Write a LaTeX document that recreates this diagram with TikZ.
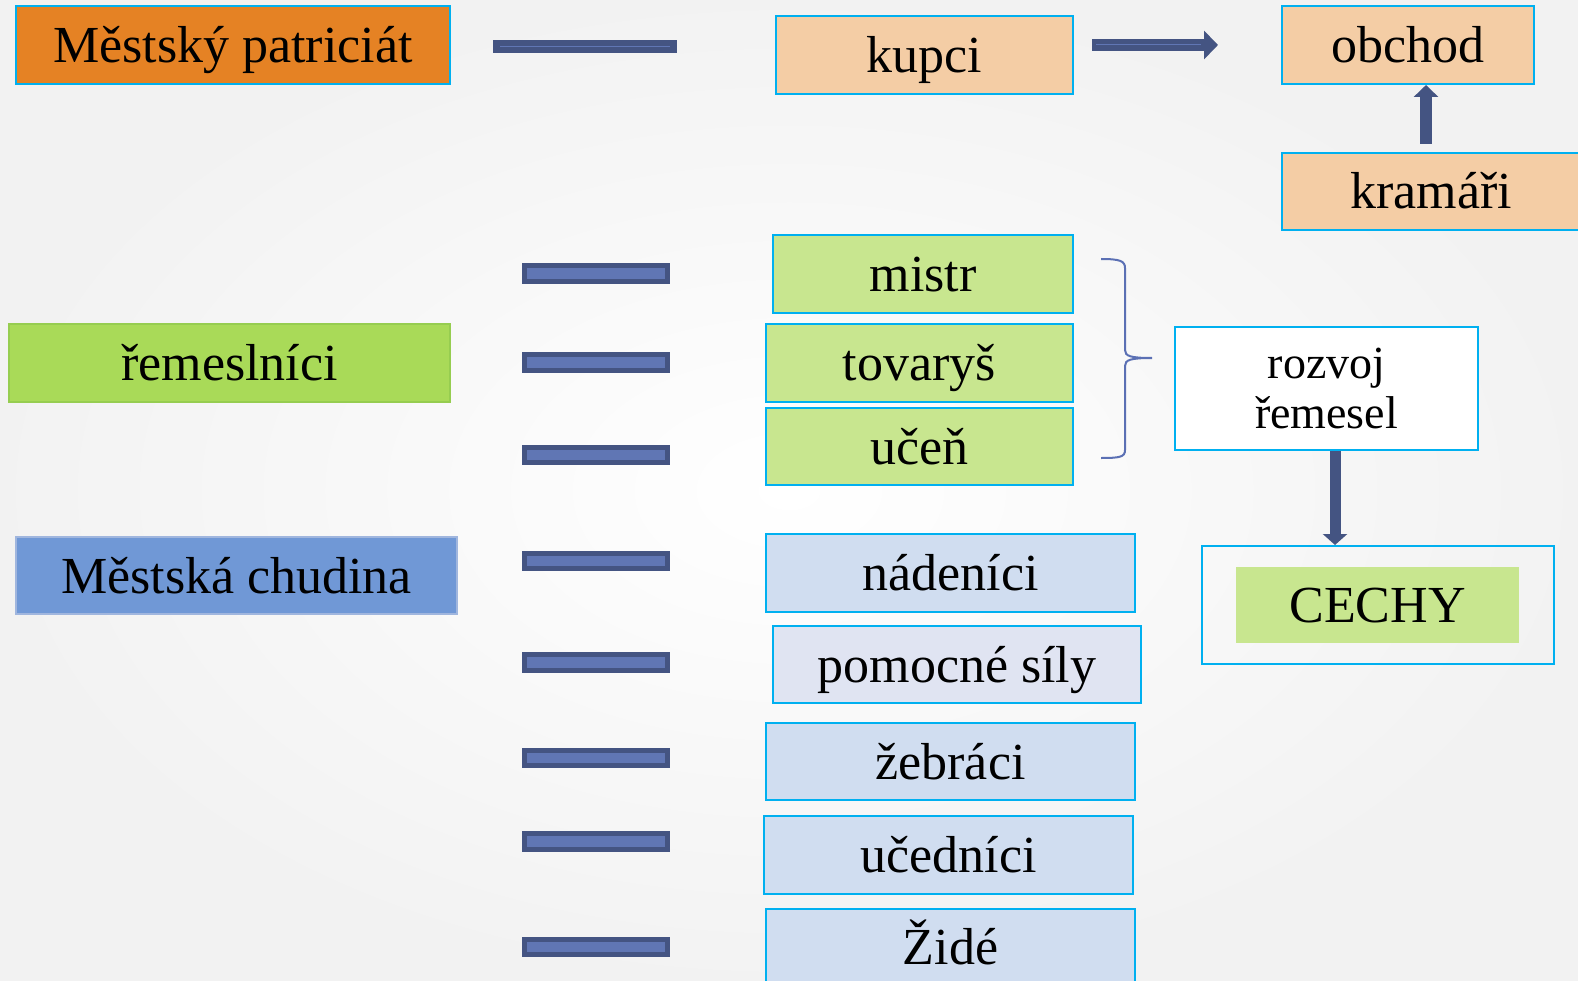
\documentclass[tikz,border=0pt]{standalone}
\usepackage{fontspec}
\setmainfont{Liberation Serif}
\usetikzlibrary{arrows.meta}

\definecolor{patricorange}{RGB}{229,130,36}
\definecolor{kupecpeach}{RGB}{244,205,165}
\definecolor{remesgreen}{RGB}{169,218,88}
\definecolor{remesgreenline}{RGB}{150,205,80}
\definecolor{cechgreen}{RGB}{200,230,143}
\definecolor{chudblue}{RGB}{112,152,214}
\definecolor{chudblueline}{RGB}{160,182,222}
\definecolor{chudlight}{RGB}{208,221,240}
\definecolor{chudlavender}{RGB}{224,228,242}
\definecolor{boxcyan}{RGB}{0,176,240}
\definecolor{bardark}{RGB}{68,84,130}
\definecolor{barfill}{RGB}{96,118,180}
\definecolor{bracecol}{RGB}{91,112,180}

\begin{document}
\begin{tikzpicture}[x=1pt, y=-1pt,
  box/.style={draw=boxcyan, line width=2pt, inner sep=0pt, font=\fontsize{52}{60}\selectfont},
  bigbox/.style={box, minimum height=78pt, text height=35pt, text depth=0pt},
  bar/.style={draw=bardark, fill=barfill, line width=5pt},
  blockarrow/.style={draw=bardark, line width=12pt, -{Triangle[width=28pt, length=14pt]}},
  bracestyle/.style={draw=bracecol, line width=2pt}]
			%%%%% START %%%%%
			\clip (0, 0) rectangle (1578, 981);
			\shade[inner color=white, outer color=gray!10] (0, 0) rectangle (1578, 981);
			\useasboundingbox (0, 0) rectangle (1578, 981);
			
			% left column
			\node[bigbox, fill=patricorange, minimum width=434pt] (patriciat) at (233, 45) {Městský patriciát};
			\node[bigbox, fill=remesgreen, draw=remesgreenline, minimum width=441pt] (remeslnici) at (229.5, 363) {řemeslníci};
			\node[bigbox, fill=chudblue, draw=chudblueline, minimum width=441pt, minimum height=77pt] (chudina) at (236.5, 575.5) {Městská chudina};
			
			% bars
			\fill[bardark] (493, 40) rectangle (677, 53);
			\draw[barfill, line width=1.5pt] (500, 46.5) -- (670, 46.5);
			\draw[bar] (524.5, 266) rectangle (667.5, 281.5);
			\draw[bar] (524.5, 354.5) rectangle (667.5, 370);
			\draw[bar] (524.5, 447) rectangle (667.5, 462.5);
			\draw[bar] (524.5, 553) rectangle (667.5, 568.5);
			\draw[bar] (524.5, 654.5) rectangle (667.5, 670);
			\draw[bar] (524.5, 750) rectangle (667.5, 765.5);
			\draw[bar] (524.5, 833.5) rectangle (667.5, 849);
			\draw[bar] (524.5, 939) rectangle (667.5, 954.5);
			
			% middle column
			\node[bigbox, fill=kupecpeach, minimum width=297pt] (kupci) at (924.5, 55) {kupci};
			\node[bigbox, fill=cechgreen, minimum width=300pt] (mistr) at (923, 274) {mistr};
			\node[bigbox, fill=cechgreen, minimum width=307pt] (tovarys) at (919.5, 363) {tovaryš};
			\node[bigbox, fill=cechgreen, minimum width=307pt, minimum height=77pt] (ucen) at (919.5, 446.5) {učeň};
			\node[bigbox, fill=chudlight, minimum width=369pt] (nadenici) at (950.5, 573) {nádeníci};
			\node[bigbox, fill=chudlavender, minimum width=368pt, minimum height=77pt] (pomocne) at (957, 664.5) {pomocné síly};
			\node[bigbox, fill=chudlight, minimum width=369pt, minimum height=77pt] (zebraci) at (950.5, 761.5) {žebráci};
			\node[bigbox, fill=chudlight, minimum width=369pt] (ucednici) at (948.5, 855) {učedníci};
			\node[bigbox, fill=chudlight, minimum width=369pt, minimum height=77pt] (zide) at (950.5, 947) {Židé};
			
			% right column
			\node[bigbox, fill=kupecpeach, minimum width=252pt] (obchod) at (1408, 45) {obchod};
			\node[bigbox, fill=kupecpeach, minimum width=298pt, minimum height=77pt] (kramari) at (1431, 191.5) {kramáři};
			\node[box, fill=white, minimum width=303pt, minimum height=123pt, align=center,
			      font=\fontsize{46}{50}\selectfont] (rozvoj) at (1326.5, 388.5) {rozvoj\\řemesel};
			\node[box, minimum width=352pt, minimum height=118pt] (cechybox) at (1378, 605) {};
			\node[bigbox, draw=none, fill=cechgreen, minimum width=283pt, minimum height=76pt] (cechy) at (1377.5, 605) {CECHY};
			
			% brace
			\draw[bracestyle] (1101, 259) .. controls (1120, 259) and (1125, 261) .. (1125, 268) -- (1125, 350)
			  .. controls (1125, 356) and (1130, 358) .. (1152, 358)
			  .. controls (1130, 358) and (1125, 360) .. (1125, 366) -- (1125, 450)
			  .. controls (1125, 457) and (1120, 458) .. (1101, 458);
			
			% arrows
			\draw[blockarrow] ([xshift=18pt]kupci.east |- obchod.west) -- ([xshift=-63pt]obchod.west);
			\draw[barfill, line width=1pt] ([xshift=22pt]kupci.east |- obchod.west) -- ([xshift=-80pt]obchod.west);
			\draw[blockarrow, line width=12pt, shorten <=8pt, -{Triangle[width=24pt, length=12pt]}] ([xshift=-5pt]kramari.north) -- ([xshift=18pt]obchod.south);
			\draw[blockarrow, line width=11pt, -{Triangle[width=24pt, length=11pt]}] ([xshift=8.5pt]rozvoj.south) -- ([xshift=8.5pt]rozvoj.south |- cechybox.north);
			%%%%% END %%%%%
\end{tikzpicture}
\end{document}
